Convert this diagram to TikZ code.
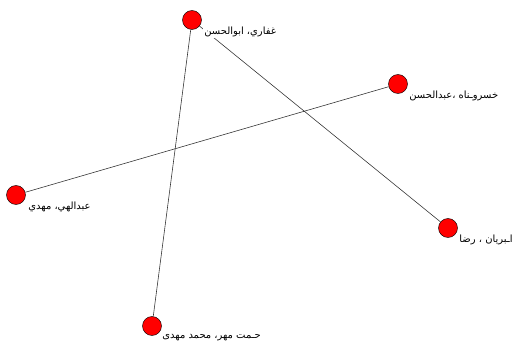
\documentclass[tikz,border=0pt]{standalone}
\usepackage{fontspec}
\newfontfamily\arabicfont[Script=Arabic]{DejaVu Sans}
\TeXXeTstate=1
\usetikzlibrary{positioning}

\tikzset{
	actor/.style={circle, draw=black, fill=red, line width=0.4pt, minimum size=0.57cm, inner sep=0pt},
	tie/.style={draw=black!80, line width=0.5pt},
	tag/.style={fill=white, inner sep=1pt, anchor=west, font=\arabicfont\fontsize{8.5}{10}\selectfont}
}

\begin{document}
\begin{tikzpicture}[x=0.03cm, y=0.03cm]
	\useasboundingbox (0,0) rectangle (532,344);
	
	% actors
	\node[actor] (ghaffari) at (192,324) {};
	\node[actor] (khosroshah) at (398,260) {};
	\node[actor] (abdollahi) at (16,149) {};
	\node[actor] (ashrafian) at (448,116) {};
	\node[actor] (heshmat) at (152,18) {};
	
	% ties
	\draw[tie] (ghaffari) -- (heshmat);
	\draw[tie] (ghaffari) -- (ashrafian);
	\draw[tie] (abdollahi) -- (khosroshah);
	
	% names
	\node[tag] (ghaffari-name) at ([shift={(11,-12)}]ghaffari.center) {\beginR غفاري، ابوالحسن\endR};
	\node[tag] (khosroshah-name) at ([shift={(10,-12)}]khosroshah.center) {\beginR خسروـناه ،عبدالحسن\endR};
	\node[tag] (abdollahi-name) at ([shift={(11,-12)}]abdollahi.center) {\beginR عبدالهي، مهدي\endR};
	\node[tag] (ashrafian-name) at ([shift={(10,-12)}]ashrafian.center) {\beginR اـبريان ، رضا\endR};
	\node[tag] (heshmat-name) at ([shift={(9,-12)}]heshmat.center) {\beginR حـمت مهر، محمد مهدی\endR};
\end{tikzpicture}
\end{document}
